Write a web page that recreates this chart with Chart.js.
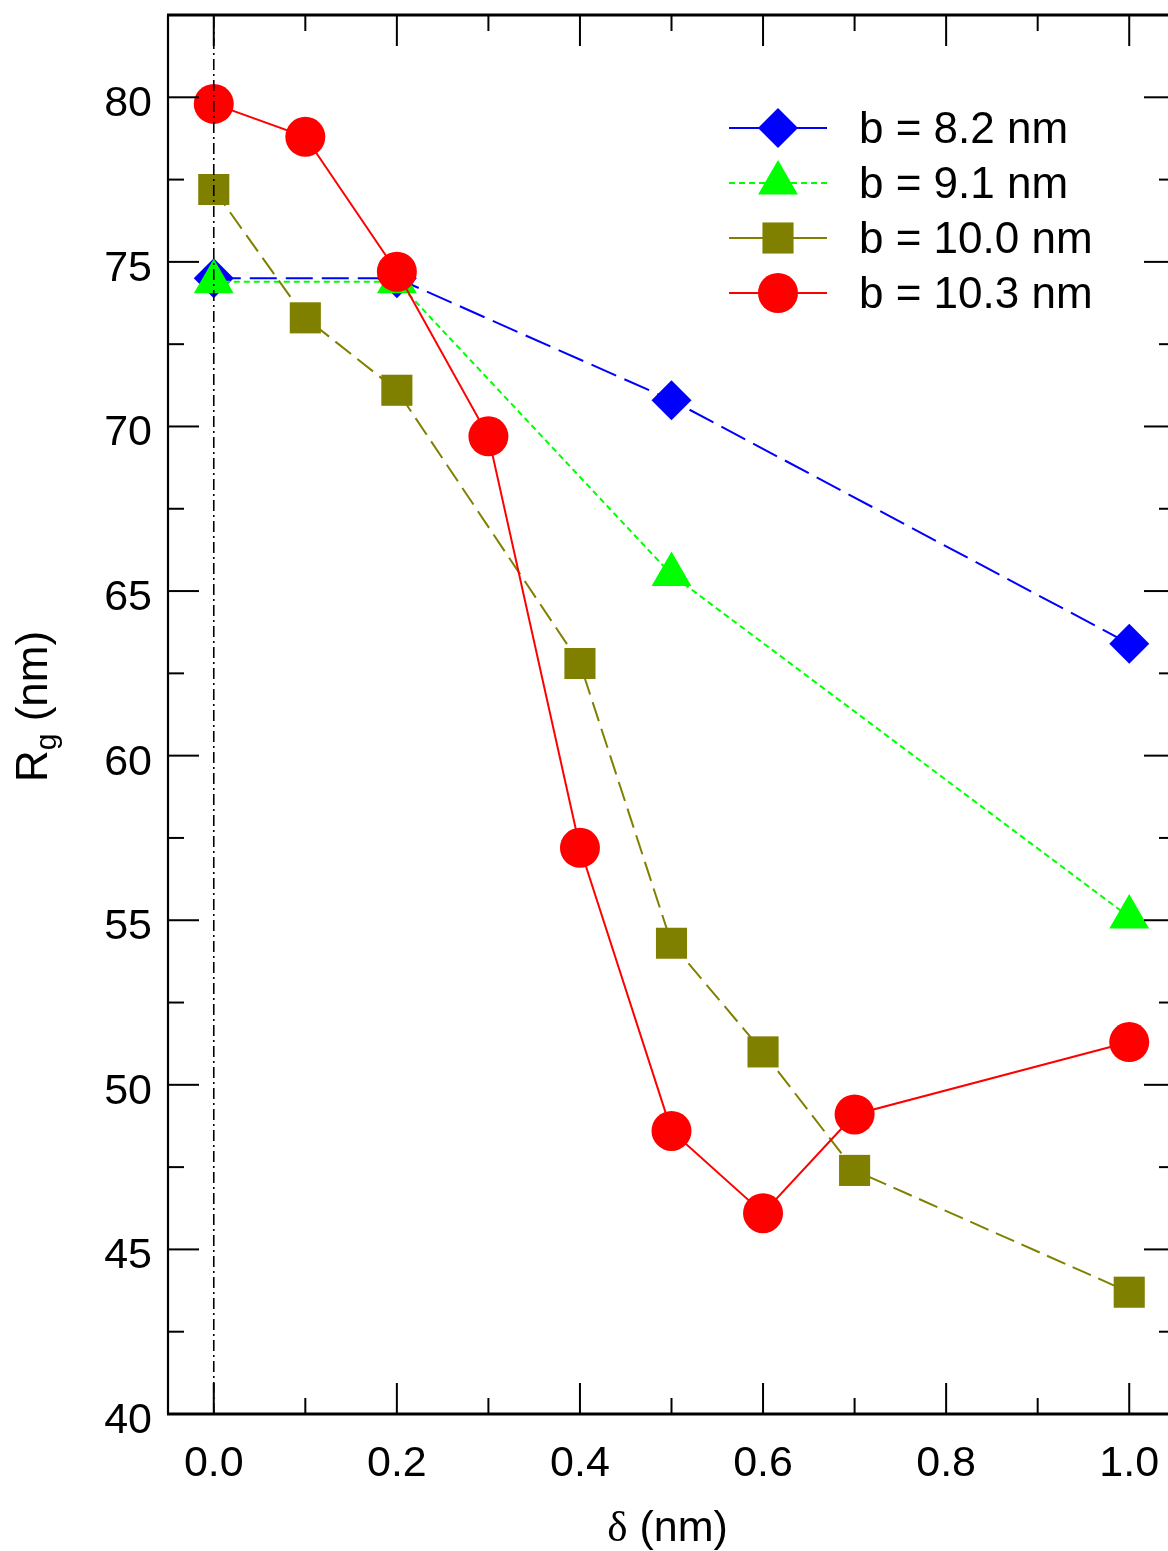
<!DOCTYPE html>
<html>
<head>
<meta charset="utf-8">
<script src="https://cdn.jsdelivr.net/npm/chart.js@4.4.0/dist/chart.umd.min.js"></script>
<style>
  html, body { margin: 0; padding: 0; overflow: hidden; background: #fff; }
  canvas { display: block; }
</style>
</head>
<body>
<canvas id="graficoRg" width="1200" height="1551"></canvas>
<script>
const delta82 = [0.0, 0.2, 0.5, 1.0];
const rg82 = [74.5, 74.5, 70.8, 63.4];

const delta91 = [0.0, 0.2, 0.5, 1.0];
const rg91 = [74.4, 74.4, 65.5, 55.1];

const delta100 = [0.0, 0.1, 0.2, 0.4, 0.5, 0.6, 0.7, 1.0];
const rg100 = [77.2, 73.3, 71.1, 62.8, 54.3, 51.0, 47.4, 43.7];

const delta103 = [0.0, 0.1, 0.2, 0.3, 0.4, 0.5, 0.6, 0.7, 1.0];
const rg103 = [79.8, 78.8, 74.7, 69.7, 57.2, 48.6, 46.1, 49.1, 51.3];

const legendas = ['b = 8.2 nm', 'b = 9.1 nm', 'b = 10.0 nm', 'b = 10.3 nm'];

const xTicks = [0.0, 0.2, 0.4, 0.6, 0.8, 1.0];
const xTickLabels = ['0.0', '0.2', '0.4', '0.6', '0.8', '1.0'];
const xMinor = [0.1, 0.3, 0.5, 0.7, 0.9];
const yTicks = [40, 45, 50, 55, 60, 65, 70, 75, 80];
const yMinor = [42.5, 47.5, 52.5, 57.5, 62.5, 67.5, 72.5, 77.5];

const xMin = -0.05, xMax = 1.05;
const yMin = 40, yMax = 82.5;

const fonte = '"Liberation Sans", Arial, sans-serif';

const pontos = (xs, ys) => xs.map((x, i) => ({ x: x, y: ys[i] }));

const series = [
    { label: legendas[0], data: pontos(delta82, rg82), cor: '#0000ff', dash: [27, 9], estilo: 'rectRot', raio: 20, ordem: 4 },
    { label: legendas[1], data: pontos(delta91, rg91), cor: '#00ff00', dash: [6, 4], estilo: 'triangle', raio: 23, ordem: 3 },
    { label: legendas[2], data: pontos(delta100, rg100), cor: '#808000', dash: [20, 8], estilo: 'rect', raio: 22, ordem: 2 },
    { label: legendas[3], data: pontos(delta103, rg103), cor: '#ff0000', dash: [], estilo: 'circle', raio: 20, ordem: 1 }
];

function marcador(ctx, estilo, x, y, r) {
    ctx.beginPath();
    if (estilo === 'circle') {
        ctx.arc(x, y, r, 0, Math.PI * 2);
    } else if (estilo === 'rect') {
        const s = Math.SQRT1_2 * r;
        ctx.rect(x - s, y - s, 2 * s, 2 * s);
    } else if (estilo === 'rectRot') {
        ctx.moveTo(x - r, y);
        ctx.lineTo(x, y - r);
        ctx.lineTo(x + r, y);
        ctx.lineTo(x, y + r);
        ctx.closePath();
    } else if (estilo === 'triangle') {
        let a = 0;
        ctx.moveTo(x + Math.sin(a) * r, y - Math.cos(a) * r);
        a += Math.PI * 2 / 3;
        ctx.lineTo(x + Math.sin(a) * r, y - Math.cos(a) * r);
        a += Math.PI * 2 / 3;
        ctx.lineTo(x + Math.sin(a) * r, y - Math.cos(a) * r);
        ctx.closePath();
    }
    ctx.fill();
}

const moldura = {
    id: 'moldura',
    afterDraw(chart) {
        const { ctx, chartArea: a, scales: { x, y } } = chart;
        ctx.save();
        ctx.strokeStyle = '#000';
        ctx.lineWidth = 2;
        const linha = (x1, y1, x2, y2) => {
            ctx.beginPath(); ctx.moveTo(x1, y1); ctx.lineTo(x2, y2); ctx.stroke();
        };
        xTicks.forEach(v => {
            const p = x.getPixelForValue(v);
            linha(p, a.bottom, p, a.bottom - 31);
            linha(p, a.top, p, a.top + 31);
        });
        xMinor.forEach(v => {
            const p = x.getPixelForValue(v);
            linha(p, a.bottom, p, a.bottom - 16);
            linha(p, a.top, p, a.top + 16);
        });
        yTicks.forEach(v => {
            const p = y.getPixelForValue(v);
            linha(a.left, p, a.left + 31, p);
            linha(a.right, p, a.right - 31, p);
        });
        yMinor.forEach(v => {
            const p = y.getPixelForValue(v);
            linha(a.left, p, a.left + 16, p);
            linha(a.right, p, a.right - 16, p);
        });

        // frame
        ctx.lineWidth = 3;
        linha(a.left - 1, a.top, a.right, a.top);
        linha(a.left - 1, a.bottom, a.right, a.bottom);
        linha(a.right, a.top, a.right, a.bottom);
        ctx.lineWidth = 2.2;
        linha(a.left, a.top, a.left, a.bottom);

        // legenda
        ctx.textAlign = 'left';
        ctx.textBaseline = 'alphabetic';
        series.forEach((s, i) => {
            const ly = a.top + 113 + i * 55;
            const lx = a.left + 561;
            ctx.strokeStyle = s.cor;
            ctx.fillStyle = s.cor;
            ctx.lineWidth = 2;
            ctx.setLineDash(s.dash.length && s.dash[0] > 15 ? [] : s.dash);
            linha(lx, ly, lx + 49, ly);
            linha(lx + 98, ly, lx + 49, ly);
            ctx.setLineDash([]);
            marcador(ctx, s.estilo, lx + 49, ly, s.raio);
            ctx.fillStyle = '#000';
            ctx.font = '44px ' + fonte;
            ctx.fillText(s.label, lx + 130, ly + 15);
        });

        // titulo x
        ctx.fillStyle = '#000';
        ctx.font = '43px "Liberation Serif", serif';
        const wd = ctx.measureText('\u03b4').width;
        ctx.font = '43px ' + fonte;
        const wn = ctx.measureText(' (nm)').width;
        const cx = (a.left + a.right) / 2 - 4 - (wd + wn) / 2;
        ctx.font = '43px "Liberation Serif", serif';
        ctx.fillText('\u03b4', cx, 1541);
        ctx.font = '43px ' + fonte;
        ctx.fillText(' (nm)', cx + wd, 1541);

        // titulo y
        ctx.save();
        ctx.font = '44px ' + fonte;
        const wR = ctx.measureText('R').width;
        const wP = ctx.measureText(' (nm)').width;
        ctx.font = '30px ' + fonte;
        const wg = ctx.measureText('g').width;
        const total = wR + wg + wP;
        ctx.translate(47, (a.top + a.bottom) / 2 - 8 + total / 2);
        ctx.rotate(-Math.PI / 2);
        ctx.font = '44px ' + fonte;
        ctx.fillText('R', 0, 0);
        ctx.font = '30px ' + fonte;
        ctx.fillText('g', wR, 9);
        ctx.font = '44px ' + fonte;
        ctx.fillText(' (nm)', wR + wg, 0);
        ctx.restore();

        ctx.restore();
    }
};

const datasets = series.map(s => ({
    label: s.label,
    data: s.data,
    borderColor: s.cor,
    backgroundColor: s.cor,
    borderWidth: 2,
    borderDash: s.dash,
    pointStyle: s.estilo,
    pointRadius: s.raio,
    pointHoverRadius: s.raio,
    pointBorderWidth: 0,
    pointBackgroundColor: s.cor,
    tension: 0,
    order: s.ordem
}));

// linha traco-ponto em delta = 0
datasets.push({
    label: 'ref',
    data: [{ x: 0, y: yMin }, { x: 0, y: yMax }],
    borderColor: '#000',
    borderWidth: 1.6,
    borderDash: [11, 4, 2, 4],
    pointRadius: 0,
    order: 0
});

const ctx = document.getElementById('graficoRg').getContext('2d');

const graficoRg = new Chart(ctx, {
    type: 'line',
    data: { datasets: datasets },
    options: {
        responsive: false,
        animation: false,
        layout: { autoPadding: false, padding: { top: 15, right: 25, left: 0, bottom: 0 } },
        plugins: {
            legend: { display: false },
            tooltip: { enabled: false }
        },
        scales: {
            x: {
                type: 'linear',
                min: xMin,
                max: xMax,
                grid: { display: false, drawTicks: false },
                border: { display: false },
                afterBuildTicks: s => { s.ticks = xTicks.map(v => ({ value: v })); },
                afterFit: s => { s.height = 137; s.paddingLeft = 0; s.paddingRight = 0; },
                ticks: {
                    color: '#000',
                    padding: 24,
                    maxRotation: 0,
                    font: { family: fonte, size: 43 },
                    callback: (v) => xTickLabels[xTicks.indexOf(v)] ?? ''
                }
            },
            y: {
                min: yMin,
                max: yMax,
                grid: { display: false, drawTicks: false },
                border: { display: false },
                afterBuildTicks: s => { s.ticks = yTicks.map(v => ({ value: v })); },
                afterFit: s => { s.width = 168; s.paddingTop = 0; s.paddingBottom = 0; },
                ticks: {
                    color: '#000',
                    padding: 16,
                    labelOffset: 7,
                    font: { family: fonte, size: 43 },
                    callback: v => String(v)
                }
            }
        }
    },
    plugins: [moldura]
});
</script>
</body>
</html>
